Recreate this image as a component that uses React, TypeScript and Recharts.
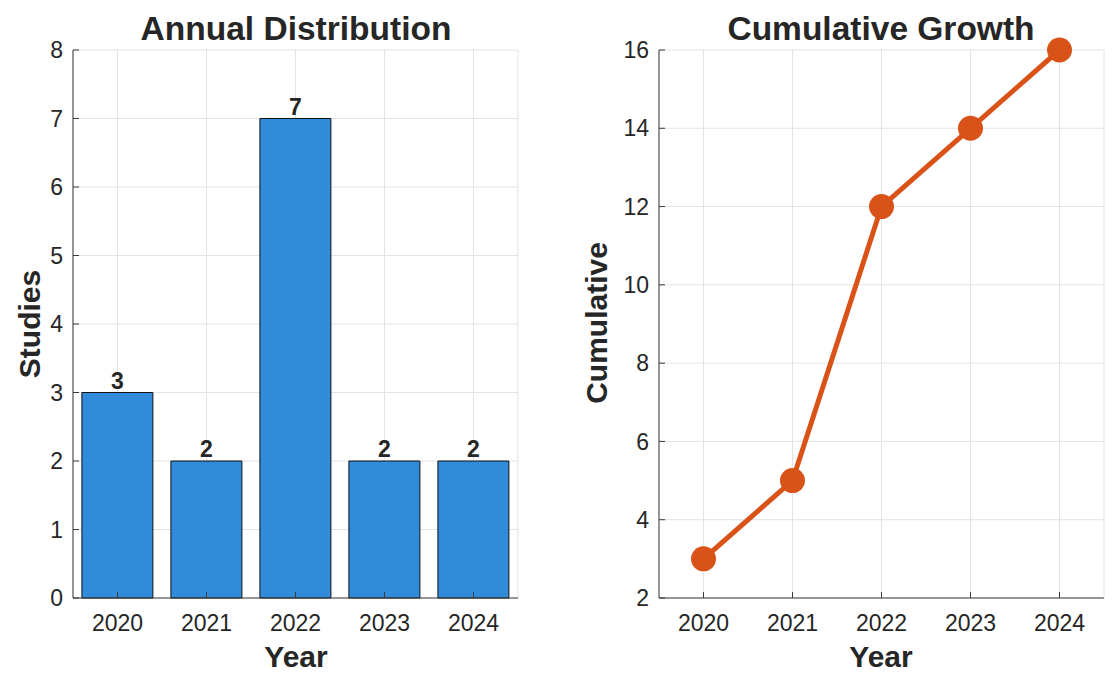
import {
  BarChart,
  Bar,
  LineChart,
  Line,
  XAxis,
  YAxis,
  CartesianGrid,
  LabelList,
} from "recharts";

const years = [2020, 2021, 2022, 2023, 2024];
const studies = [3, 2, 7, 2, 2];
const cumulative = [3, 5, 12, 14, 16];
const studyTicks = [0, 1, 2, 3, 4, 5, 6, 7, 8];
const cumulativeTicks = [2, 4, 6, 8, 10, 12, 14, 16];

const FONT = '"Liberation Sans", Arial, Helvetica, sans-serif';
const INK = "#262626";
const FRAME = "#3a3a3a";
const GRID = "#e3e3e3";
const BLUE = "#318BDB";
const ORANGE = "#D95319";

const tickStyle = { fill: INK, fontSize: 23, fontFamily: FONT };

const absText = (
  left: number,
  top: number,
  size: number,
  rotate = false
): React.CSSProperties => ({
  position: "absolute",
  left,
  top,
  fontFamily: FONT,
  fontWeight: 700,
  fontSize: size,
  color: INK,
  whiteSpace: "nowrap",
  transform: rotate
    ? "translate(-50%, -50%) rotate(-90deg)"
    : "translate(-50%, -50%)",
  lineHeight: 1,
});

const App = () => {
  const barData = years.map((y, i) => ({ year: y, studies: studies[i] }));
  const lineData = years.map((y, i) => ({ year: y, total: cumulative[i] }));

  return (
    <div
      style={{
        position: "absolute",
        left: 0,
        top: 0,
        width: 1114,
        height: 680,
        background: "#fff",
        overflow: "hidden",
      }}
    >
      <div style={{ position: "absolute", left: 0, top: 0 }}>
        <BarChart
          width={560}
          height={680}
          data={barData}
          margin={{ top: 50, right: 42, bottom: 0, left: 0 }}
          barCategoryGap="10%"
        >
          <CartesianGrid stroke={GRID} strokeWidth={1} />
          <XAxis
            dataKey="year"
            height={82}
            stroke={FRAME}
            tick={tickStyle}
            tickSize={-6}
            tickMargin={23}
            interval={0}
          />
          <XAxis
            xAxisId="top"
            dataKey="year"
            orientation="top"
            height={0}
            stroke={FRAME}
            tick={false}
            tickSize={-6}
          />
          <YAxis
            width={73}
            domain={[0, 8]}
            ticks={studyTicks}
            stroke={FRAME}
            tick={tickStyle}
            tickSize={-6}
            tickMargin={16}
            interval={0}
          />
          <YAxis
            yAxisId="right"
            orientation="right"
            width={0}
            domain={[0, 8]}
            ticks={studyTicks}
            stroke={FRAME}
            tick={false}
            tickSize={-6}
          />
          <Bar
            dataKey="studies"
            fill={BLUE}
            stroke="#111"
            strokeWidth={1}
            isAnimationActive={false}
          >
            <LabelList
              dataKey="studies"
              position="top"
              offset={4}
              style={{
                fill: INK,
                fontSize: 23,
                fontWeight: 700,
                fontFamily: FONT,
              }}
            />
          </Bar>
        </BarChart>
      </div>

      <div style={{ position: "absolute", left: 560, top: 0 }}>
        <LineChart
          width={554}
          height={680}
          data={lineData}
          margin={{ top: 50, right: 10, bottom: 0, left: 0 }}
        >
          <CartesianGrid stroke={GRID} strokeWidth={1} />
          <XAxis
            dataKey="year"
            type="number"
            domain={[2019.5, 2024.5]}
            ticks={years}
            height={82}
            stroke={FRAME}
            tick={tickStyle}
            tickSize={-6}
            tickMargin={23}
            interval={0}
          />
          <XAxis
            xAxisId="top"
            dataKey="year"
            type="number"
            domain={[2019.5, 2024.5]}
            ticks={years}
            orientation="top"
            height={0}
            stroke={FRAME}
            tick={false}
            tickSize={-6}
          />
          <YAxis
            width={99}
            domain={[2, 16]}
            ticks={cumulativeTicks}
            stroke={FRAME}
            tick={tickStyle}
            tickSize={-6}
            tickMargin={16}
            interval={0}
          />
          <YAxis
            yAxisId="right"
            orientation="right"
            width={0}
            domain={[2, 16]}
            ticks={cumulativeTicks}
            stroke={FRAME}
            tick={false}
            tickSize={-6}
          />
          <Line
            dataKey="total"
            stroke={ORANGE}
            strokeWidth={5}
            dot={{ r: 12.5, fill: ORANGE, stroke: ORANGE, strokeWidth: 0 }}
            isAnimationActive={false}
          />
        </LineChart>
      </div>

      <div style={absText(296, 29, 33.5)}>Annual Distribution</div>
      <div style={absText(296, 657, 30)}>Year</div>
      <div style={absText(30, 324, 30, true)}>Studies</div>

      <div style={absText(881, 29, 33.5)}>Cumulative Growth</div>
      <div style={absText(881, 657, 30)}>Year</div>
      <div style={absText(597, 323, 30, true)}>Cumulative</div>
    </div>
  );
};

export default App;
